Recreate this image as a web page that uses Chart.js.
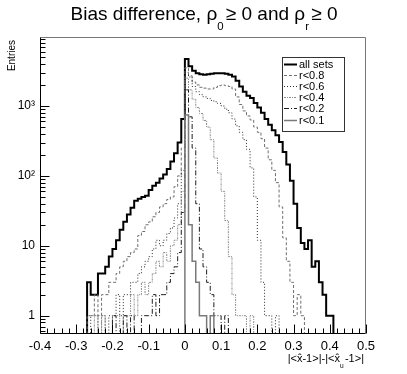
<!DOCTYPE html>
<html>
<head>
<meta charset="utf-8">
<title>Bias difference</title>
<script src="https://cdn.jsdelivr.net/npm/chart.js@4.4.1/dist/chart.umd.min.js"></script>
<style>
  html, body { margin: 0; padding: 0; background: #fff; }
  canvas { display: block; }
</style>
</head>
<body>
<canvas id="graficoBias" width="407" height="374"></canvas>
<script>
// histogram bins: 0.01 wide, the first one starts at -0.28
const binStart = -0.28;
const binWidth = 0.01;

// entries per bin
const allSets = [
    0, 3, 2, 2, 4, 4, 5, 7, 9, 12,
    17, 22, 28, 35, 44, 47, 50, 52, 63, 72,
    80, 92, 105, 125, 160, 210, 300, 650, 4700, 3700,
    3200, 2950, 2850, 2800, 2850, 2900, 2950, 2950, 2950, 2900,
    2800, 2650, 2300, 1900, 1600, 1400, 1300, 1100, 950, 800,
    650, 540, 450, 380, 305, 220, 145, 85, 40, 18,
    11, 9, 12, 5, 6, 3, 2, 1, 1, 0
];
const r08 = [
    0, 1, 1, 2, 1, 2, 2, 3, 3, 4,
    5, 6, 7, 8, 9, 14, 16, 20, 22, 26,
    30, 36, 40, 46, 50, 70, 100, 250, 3500, 2700,
    2200, 2000, 1850, 1800, 1750, 1750, 1850, 1950, 2000, 1950,
    1900, 1750, 1350, 1050, 850, 720, 630, 500, 420, 340,
    250, 170, 120, 80, 36, 13, 6, 3, 1, 2,
    1, 0, 0, 0, 0, 0, 0, 0, 0, 0
];
const r06 = [
    0, 0, 1, 1, 0, 1, 0, 1, 1, 2,
    1, 2, 2, 3, 3, 4, 5, 6, 7, 9,
    12, 10, 12, 15, 18, 25, 40, 120, 3000, 2600,
    1900, 1600, 1450, 1350, 1280, 1200, 1150, 1090, 1000, 900,
    800, 650, 520, 420, 330, 240, 130, 50, 12, 3,
    1, 1, 0, 1, 0, 0, 0, 0, 0, 0,
    0, 0, 0, 0, 0, 0, 0, 0, 0, 0
];
const r04 = [
    0, 0, 0, 1, 0, 1, 0, 0, 1, 1,
    0, 1, 1, 2, 1, 2, 3, 2, 3, 4,
    6, 5, 8, 6, 10, 12, 20, 60, 2500, 1700,
    1250, 950, 780, 620, 500, 330, 180, 110, 60, 23,
    7, 2, 1, 1, 1, 0, 1, 0, 0, 0,
    0, 0, 0, 0, 0, 0, 0, 0, 0, 0,
    0, 0, 0, 0, 0, 0, 0, 0, 0, 0
];
const r02 = [
    0, 0, 0, 0, 0, 0, 0, 0, 1, 0,
    0, 1, 0, 1, 0, 0, 1, 1, 1, 2,
    1, 2, 2, 3, 4, 5, 8, 30, 1700, 700,
    250, 40, 9, 5, 3, 2, 1, 1, 0, 1,
    0, 0, 0, 0, 0, 0, 0, 0, 0, 0,
    0, 0, 0, 0, 0, 0, 0, 0, 0, 0,
    0, 0, 0, 0, 0, 0, 0, 0, 0, 0
];
const r01 = [
    0, 0, 0, 0, 0, 0, 0, 0, 0, 0,
    0, 0, 0, 0, 0, 0, 0, 0, 0, 0,
    0, 0, 0, 0, 0, 0, 0, 0, 740, 20,
    6, 3, 1, 1, 0, 1, 0, 0, 0, 0,
    0, 0, 0, 0, 0, 0, 0, 0, 0, 0,
    0, 0, 0, 0, 0, 0, 0, 0, 0, 0,
    0, 0, 0, 0, 0, 0, 0, 0, 0, 0
];

const seriesLabels = ["all sets", "r<0.8", "r<0.6", "r<0.4", "r<0.2", "r<0.1"];
const xTicks = [-0.4, -0.3, -0.2, -0.1, 0, 0.1, 0.2, 0.3, 0.4, 0.5];
const yTicks = [1, 10, 100, 1000];
const yTickLabels = ["1", "10", "10²", "10³"];

// line styles for each series (same order as seriesLabels)
const estilos = [
    { cor: "#000000", largura: 2, tracejado: [] },
    { cor: "#6e6e6e", largura: 1, tracejado: [3, 2] },
    { cor: "#2a2a2a", largura: 1, tracejado: [1, 2] },
    { cor: "#8c8c8c", largura: 1, tracejado: [2, 1, 1, 1] },
    { cor: "#1e1e1e", largura: 1, tracejado: [5, 2, 1, 2] },
    { cor: "#7a7a7a", largura: 1.5, tracejado: [] }
];

// empty bins: ROOT drops them to the bottom of the frame, a log axis can't show 0,
// so they go just under the axis minimum and get clipped
const VAZIO = 0.1;

function pontosHistograma(valores) {
    const pts = [{ x: binStart, y: VAZIO }];
    valores.forEach((v, i) => pts.push({ x: binStart + i * binWidth, y: v > 0 ? v : VAZIO }));
    pts.push({ x: binStart + valores.length * binWidth, y: VAZIO });
    return pts;
}

const fonte = '"Liberation Sans", Arial, Helvetica, sans-serif';

// draws a piece of text with subscripts, [{t, sub}]
function textoRico(ctx, partes, x, y, tam, alinhar) {
    const medir = p => {
        ctx.font = (p.sub ? tam * 0.6 : tam) + "px " + fonte;
        return ctx.measureText(p.t).width + (p.sub ? tam * 0.12 : 0);
    };
    const total = partes.reduce((s, p) => s + medir(p), 0);
    let cx = alinhar === "center" ? x - total / 2 : alinhar === "right" ? x - total : x;
    ctx.textAlign = "left";
    ctx.textBaseline = "alphabetic";
    partes.forEach(p => {
        const w = medir(p);
        ctx.fillText(p.t, cx, p.sub ? y + tam * 0.55 : y);
        cx += w;
    });
}

const molduraPlugin = {
    id: "moldura",
    afterDatasetsDraw(chart) {
        const { ctx, chartArea: a, scales } = chart;
        const xs = scales.x, ys = scales.y;
        const L = Math.round(a.left) + 0.5, R = Math.round(a.right) - 0.5;
        const T = Math.round(a.top) + 0.5, B = Math.round(a.bottom) - 0.5;
        ctx.save();
        ctx.lineWidth = 1;
        ctx.setLineDash([]);
        // top and right of the frame
        ctx.strokeStyle = "#777";
        ctx.beginPath();
        ctx.moveTo(L, T); ctx.lineTo(R, T); ctx.lineTo(R, B);
        ctx.stroke();
        // axes
        ctx.strokeStyle = "#000";
        ctx.beginPath();
        ctx.moveTo(L, T); ctx.lineTo(L, B); ctx.lineTo(R, B);
        // x ticks, inside the frame
        for (let k = -20; k <= 25; k++) {
            const v = k * 0.02;
            const px = Math.round(xs.getPixelForValue(v)) + 0.5;
            const len = k % 5 === 0 ? 9 : 5;
            ctx.moveTo(px, B); ctx.lineTo(px, B - len);
        }
        // y ticks, decades and 2..9
        for (let d = -1; d <= 3; d++) {
            for (let m = 1; m <= 9; m++) {
                const v = m * Math.pow(10, d);
                if (v < ys.min || v > ys.max) continue;
                const py = Math.round(ys.getPixelForValue(v)) + 0.5;
                const len = m === 1 ? 9 : 5;
                ctx.moveTo(L, py); ctx.lineTo(L + len, py);
            }
        }
        ctx.stroke();

        // legend box
        const lx = 282, ly = 57, lw = 62, lh = 74;
        ctx.fillStyle = "#fff";
        ctx.fillRect(lx, ly, lw, lh);
        ctx.strokeStyle = "#333";
        ctx.strokeRect(lx + 0.5, ly + 0.5, lw, lh);
        ctx.font = "11px " + fonte;
        ctx.textBaseline = "middle";
        ctx.textAlign = "left";
        seriesLabels.forEach((nome, i) => {
            const yy = Math.round(63.5 + i * 11.2) + 0.5;
            const e = estilos[i];
            ctx.strokeStyle = e.cor;
            ctx.lineWidth = e.largura;
            ctx.setLineDash(e.tracejado);
            ctx.beginPath();
            ctx.moveTo(284, yy); ctx.lineTo(297, yy);
            ctx.stroke();
            ctx.setLineDash([]);
            ctx.fillStyle = "#000";
            ctx.fillText(nome, 299, yy);
        });
        ctx.restore();
    },
    afterDraw(chart) {
        const ctx = chart.ctx;
        ctx.save();
        ctx.fillStyle = "#000";
        // title
        textoRico(ctx, [
            { t: "Bias difference, ρ" }, { t: "0", sub: true },
            { t: "≥ 0 and ρ" }, { t: "r", sub: true }, { t: "≥ 0" }
        ], 204, 20, 19, "center");
        // x axis title
        textoRico(ctx, [
            { t: "|<x\u0302-1>|-|<x\u0302" }, { t: "u", sub: true }, { t: "-1>|" }
        ], 364, 362, 11, "right");
        // y axis title
        ctx.translate(15, 40);
        ctx.rotate(-Math.PI / 2);
        ctx.font = "10px " + fonte;
        ctx.textAlign = "right";
        ctx.textBaseline = "alphabetic";
        ctx.fillText("Entries", 0, 0);
        ctx.restore();
    }
};

const datasets = [allSets, r08, r06, r04, r02, r01].map((valores, i) => ({
    label: seriesLabels[i],
    data: pontosHistograma(valores),
    borderColor: estilos[i].cor,
    borderWidth: estilos[i].largura,
    borderDash: estilos[i].tracejado,
    stepped: true,
    pointRadius: 0,
    fill: false,
    tension: 0
})).reverse(); // draw "all sets" last, on top

new Chart(document.getElementById("graficoBias"), {
    type: "line",
    data: { datasets: datasets },
    options: {
        responsive: false,
        animation: false,
        devicePixelRatio: 1,
        layout: { padding: { left: 0, top: 37, right: 41, bottom: 0 } },
        plugins: { legend: { display: false }, tooltip: { enabled: false } },
        scales: {
            x: {
                type: "linear",
                min: -0.4,
                max: 0.5,
                afterBuildTicks: axis => { axis.ticks = xTicks.map(v => ({ value: v })); },
                afterFit: axis => { axis.height = 40; },
                grid: { display: false, drawTicks: false },
                border: { display: false },
                ticks: {
                    autoSkip: false,
                    maxRotation: 0,
                    padding: 5,
                    color: "#000",
                    font: { family: fonte, size: 13 },
                    callback: v => String(+v.toFixed(1))
                }
            },
            y: {
                type: "logarithmic",
                min: 0.547,
                max: 9700,
                afterBuildTicks: axis => { axis.ticks = yTicks.map(v => ({ value: v })); },
                afterFit: axis => { axis.width = 40; },
                grid: { display: false, drawTicks: false },
                border: { display: false },
                ticks: {
                    autoSkip: false,
                    padding: 5,
                    color: "#000",
                    font: { family: fonte, size: 12 },
                    callback: v => yTickLabels[yTicks.indexOf(v)]
                }
            }
        }
    },
    plugins: [molduraPlugin]
});
</script>
</body>
</html>
